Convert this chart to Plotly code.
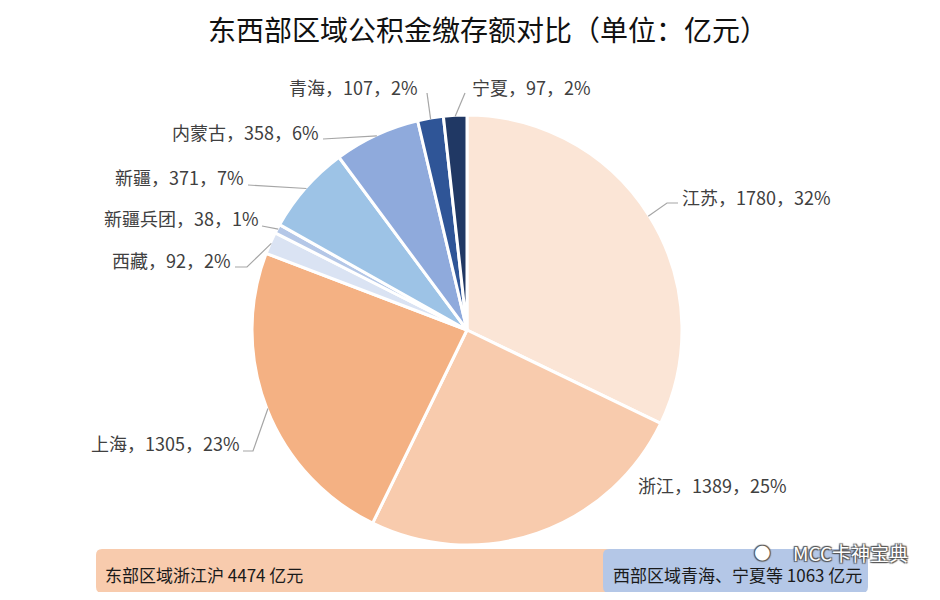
import math
import plotly.graph_objects as go

# page is drawn with an 8px body margin, so work in window pixels and shift
OFF = 8
W, H = 940 - 2 * OFF, 600 - 2 * OFF

# data (亿元)
regions = ["江苏", "浙江", "上海", "西藏", "新疆兵团", "新疆", "内蒙古", "青海", "宁夏"]
amounts = [1780, 1389, 1305, 92, 38, 371, 358, 107, 97]
pct_shown = [32, 25, 23, 2, 1, 7, 6, 2, 2]
east = ["江苏", "浙江", "上海"]

colors = ["#FBE5D6", "#F8CBAD", "#F4B183", "#DAE3F3", "#B4C7E7",
          "#9DC3E6", "#8FAADC", "#2F5597", "#203864"]

# label placement (window pixels): text anchor point, side, leader points
label_pos = {
    "江苏": dict(x=680, y=197, side="left", leader=[(667, 203), (678, 203)]),
    "浙江": dict(x=636, y=485, side="left", leader=None),
    "上海": dict(x=242, y=443, side="right", leader=[(253, 451), (243, 451)]),
    "西藏": dict(x=233, y=260, side="right", leader=[(247, 267), (235, 267)]),
    "新疆兵团": dict(x=261, y=218, side="right", leader=[(262, 226)]),
    "新疆": dict(x=246, y=177, side="right", leader=[(248, 185)]),
    "内蒙古": dict(x=321, y=132, side="right", leader=[(323, 139)]),
    "青海": dict(x=420, y=87, side="right", leader=[(427, 93)]),
    "宁夏": dict(x=470, y=87, side="left", leader=[(465, 93)]),
}

cx, cy, R = 467, 330, 215


def px(x):
    return (x - OFF) / W


def py(y):
    return 1 - (y - OFF) / H


fig = go.Figure(go.Pie(
    labels=regions,
    values=amounts,
    sort=False,
    direction="clockwise",
    rotation=0,
    marker=dict(colors=colors, line=dict(color="white", width=3)),
    textinfo="none",
    hoverinfo="label+value+percent",
    domain=dict(x=[px(cx - R), px(cx + R)], y=[py(cy + R), py(cy - R)]),
    showlegend=False,
))

label_font = dict(family="Noto Sans CJK SC", size=18, color="#404040")
annotations = []
shapes = []

total = sum(amounts)
acc = 0
for name, val, pct in zip(regions, amounts, pct_shown):
    mid = (acc + val / 2) / total * 2 * math.pi
    acc += val
    lp = label_pos[name]
    annotations.append(dict(
        x=px(lp["x"]), y=py(lp["y"]), xref="paper", yref="paper",
        text=f"{name}，{val}，{pct}%", showarrow=False,
        xanchor=lp["side"], yanchor="middle", font=label_font,
    ))
    if lp["leader"]:
        ex = cx + (R - 1) * math.sin(mid)
        ey = cy - (R - 1) * math.cos(mid)
        pts = [(ex, ey)] + lp["leader"]
        path = "M " + " L ".join(f"{px(a)},{py(b)}" for a, b in pts)
        shapes.append(dict(type="path", xref="paper", yref="paper", path=path,
                           line=dict(color="#A6A6A6", width=1.2)))


def rounded_rect(x0, y0, x1, y1, r):
    pts = [
        f"M {px(x0 + r)},{py(y0)}",
        f"L {px(x1 - r)},{py(y0)}",
        f"Q {px(x1)},{py(y0)} {px(x1)},{py(y0 + r)}",
        f"L {px(x1)},{py(y1 - r)}",
        f"Q {px(x1)},{py(y1)} {px(x1 - r)},{py(y1)}",
        f"L {px(x0 + r)},{py(y1)}",
        f"Q {px(x0)},{py(y1)} {px(x0)},{py(y1 - r)}",
        f"L {px(x0)},{py(y0 + r)}",
        f"Q {px(x0)},{py(y0)} {px(x0 + r)},{py(y0)} Z",
    ]
    return " ".join(pts)


shapes.append(dict(type="path", xref="paper", yref="paper", layer="above",
                   path=rounded_rect(96, 549, 620, 593, 6),
                   fillcolor="#F8CBAD", line=dict(width=0)))
shapes.append(dict(type="path", xref="paper", yref="paper", layer="above",
                   path=rounded_rect(603, 549, 868, 593, 6),
                   fillcolor="#B4C7E7", line=dict(width=0)))

east_sum = sum(v for n, v in zip(regions, amounts) if n in east)
west_sum = total - east_sum
bar_font = dict(family="Noto Sans CJK SC", size=17, color="#1a1a1a")
annotations.append(dict(x=px(103), y=py(574), xref="paper", yref="paper",
                        text=f"东部区域浙江沪 {east_sum} 亿元", showarrow=False,
                        xanchor="left", yanchor="middle", font=bar_font))
annotations.append(dict(x=px(611), y=py(574), xref="paper", yref="paper",
                        text=f"西部区域青海、宁夏等 {west_sum} 亿元", showarrow=False,
                        xanchor="left", yanchor="middle", font=bar_font))

# watermark
wm_shadow = "1px 1px 1px #555, -1px -1px 1px #555, 1px -1px 1px #555, -1px 1px 1px #555"
annotations.append(dict(x=px(910), y=py(552), xref="paper", yref="paper",
                        text="MCC卡神宝典", showarrow=False,
                        xanchor="right", yanchor="middle",
                        font=dict(family="Noto Sans CJK SC", size=19, color="white",
                                  shadow=wm_shadow)))
annotations.append(dict(x=px(762), y=py(551), xref="paper", yref="paper",
                        text="●", showarrow=False,
                        xanchor="center", yanchor="middle",
                        font=dict(family="DejaVu Sans", size=19, color="white",
                                  shadow=wm_shadow)))

fig.update_layout(
    width=W, height=H,
    margin=dict(l=0, r=0, t=0, b=0),
    paper_bgcolor="white",
    plot_bgcolor="white",
    title=dict(text="东西部区域公积金缴存额对比（单位：亿元）",
               x=px(488), xanchor="center", y=py(31), yanchor="middle",
               font=dict(family="Noto Sans CJK SC", size=28, color="#111")),
    annotations=annotations,
    shapes=shapes,
)

fig.write_html("out.html")
